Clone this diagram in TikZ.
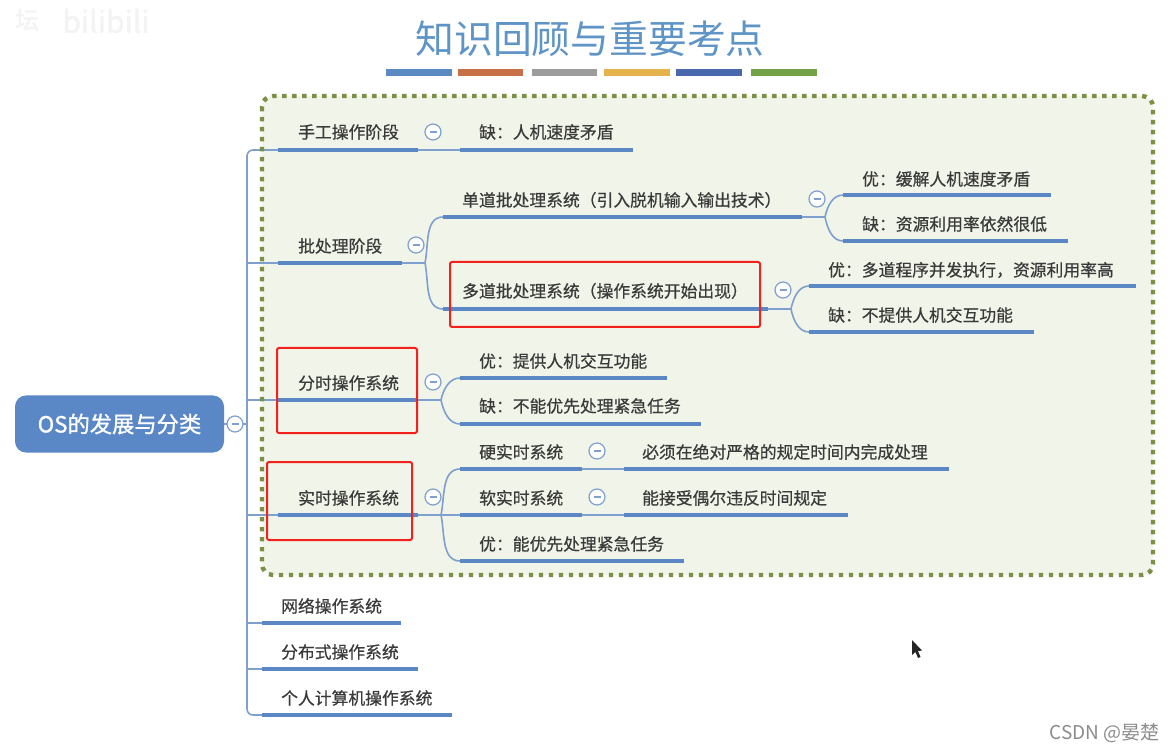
\documentclass[tikz,border=0pt]{standalone}
\usepackage{fontspec}
\setmainfont{Noto Sans CJK SC}
\newfontfamily\cjkbold[FakeBold=0.55]{Noto Sans CJK SC}
\newfontfamily\cjkheavy[FakeBold=1.2]{Noto Sans CJK SC}
\usetikzlibrary{calc}
\definecolor{thickblue}{HTML}{5B87C5}
\definecolor{thinblue}{HTML}{7FA0CE}
\definecolor{rootblue}{HTML}{5A87C6}
\definecolor{titleblue}{HTML}{5F95C6}
\definecolor{boxfill}{HTML}{F0F4E9}
\definecolor{boxdots}{HTML}{7B8F45}
\definecolor{labeltext}{HTML}{3A3A3A}
\definecolor{markred}{HTML}{F2211E}
\definecolor{barA}{HTML}{5B8AC2}
\definecolor{barB}{HTML}{C87048}
\definecolor{barC}{HTML}{9C9C9C}
\definecolor{barD}{HTML}{E6B24C}
\definecolor{barE}{HTML}{4A69AC}
\definecolor{barF}{HTML}{72A148}
\definecolor{faintmark}{HTML}{F3F3F3}
\tikzset{
  topictext/.style={font=\cjkbold\fontsize{16.8}{18}\selectfont,text=labeltext,inner sep=0pt,anchor=west},
  underline/.style={line width=3.6pt,draw=thickblue},
  link/.style={line width=1.6pt,draw=thinblue},
  collapse/.style={circle,draw=thinblue,fill=white,line width=1.2pt,minimum size=16pt,inner sep=0pt},
  redbox/.style={draw=markred,line width=2pt,rounded corners=2pt},
  colorbar/.style={minimum height=7pt,inner sep=0pt,anchor=west},
  branch/.style={link,out=78,in=180,looseness=0.95},
  branchdown/.style={link,out=-78,in=180,looseness=0.95}
}
% name, x1, x2, underline y, text x, text centre y, text
\newcommand{\topicitem}[7]{%
  \coordinate (#1-l) at (#2,#4);
  \coordinate (#1-r) at (#3,#4);
  \node[topictext] (#1) at (#5,#6) {#7};
}
\newcommand{\foldmark}[3]{%
  \node[collapse] (#1) at (#2,#3) {};
  \draw[draw=thinblue,line width=1.1pt] ($(#1.center)+(-3.5,0)$) -- ($(#1.center)+(3.5,0)$);
}
\begin{document}
\begin{tikzpicture}[x=1pt,y=-1pt]
\useasboundingbox (0,0) rectangle (1176,751);
\fill[white] (0,0) rectangle (1176,751);
% watermark
\node[font=\cjkheavy\fontsize{24}{26}\selectfont,text=faintmark,inner sep=0pt] (markicon) at (27,20) {坛};
\node[font=\cjkheavy\fontsize{30}{32}\selectfont,text=faintmark,inner sep=0pt] (mark) at (106,21) {bilibili};
% title
\node[font=\fontsize{38.8}{42}\selectfont,text=titleblue,inner sep=0pt] (title) at (590,39) {知识回顾与重要考点};
\node[colorbar,fill=barA,minimum width=66pt] (b1) at (386,73) {};
\node[colorbar,fill=barB,minimum width=65pt] (b2) at (458,73) {};
\node[colorbar,fill=barC,minimum width=65pt] (b3) at (532,73) {};
\node[colorbar,fill=barD,minimum width=66pt] (b4) at (604,73) {};
\node[colorbar,fill=barE,minimum width=66pt] (b5) at (676,73) {};
\node[colorbar,fill=barF,minimum width=66pt] (b6) at (751,73) {};
% panel fill
\fill[boxfill,rounded corners=11pt] (262,96) rectangle (1153,575);
% topics
\topicitem{sg}{278}{418}{150}{298}{132}{手工操作阶段}
\topicitem{sgq}{460}{633}{150}{479}{132}{缺：人机速度矛盾}
\topicitem{pc}{278}{402}{263}{298}{246}{批处理阶段}
\topicitem{dd}{443}{802}{217}{462}{200}{单道批处理系统（引入脱机输入输出技术）}
\topicitem{ddy}{843}{1051}{195}{862}{179}{优：缓解人机速度矛盾}
\topicitem{ddq}{843}{1068}{241}{862}{224}{缺：资源利用率依然很低}
\topicitem{md}{443}{768}{309}{462}{291}{多道批处理系统（操作系统开始出现）}
\topicitem{mdy}{809}{1136}{286}{828}{270}{优：多道程序并发执行，资源利用率高}
\topicitem{mdq}{809}{1034}{332}{828}{315}{缺：不提供人机交互功能}
\topicitem{fs}{278}{418}{400}{298}{383}{分时操作系统}
\topicitem{fsy}{460}{667}{378}{479}{361}{优：提供人机交互功能}
\topicitem{fsq}{460}{701}{424}{479}{406}{缺：不能优先处理紧急任务}
\topicitem{ss}{278}{418}{515}{298}{498}{实时操作系统}
\topicitem{hard}{460}{582}{469}{479}{452}{硬实时系统}
\topicitem{hardd}{624}{949}{469}{642}{452}{必须在绝对严格的规定时间内完成处理}
\topicitem{soft}{460}{582}{515}{479}{498}{软实时系统}
\topicitem{softd}{624}{848}{515}{642}{498}{能接受偶尔违反时间规定}
\topicitem{ssy}{460}{684}{561}{479}{544}{优：能优先处理紧急任务}
\topicitem{net}{262}{401}{623}{281}{606}{网络操作系统}
\topicitem{dist}{262}{418}{669}{281}{652}{分布式操作系统}
\topicitem{pers}{262}{452}{715}{281}{698}{个人计算机操作系统}
% root
\node[fill=rootblue,rounded corners=11pt,minimum width=209pt,minimum height=57pt,inner sep=0pt,text=white,font=\cjkheavy\fontsize{22.3}{24}\selectfont] (root) at (119.5,424) {OS的发展与分类};
% junctions
\coordinate (spine) at (247,424);
\coordinate (jpc) at (425,263);
\coordinate (jdd) at (825,217);
\coordinate (jmd) at (791,309);
\coordinate (jfs) at (441,400);
\coordinate (jss) at (441,515);
% connectors
\draw[link] (root.east) -- (spine);
\draw[link,rounded corners=6pt] (sg-l) -- (spine |- sg-l) -- (spine |- pers-l) -- (pers-l);
\draw[link] (spine |- pc-l) -- (pc-l);
\draw[link] (spine |- fs-l) -- (fs-l);
\draw[link] (spine |- ss-l) -- (ss-l);
\draw[link] (spine |- net-l) -- (net-l);
\draw[link] (spine |- dist-l) -- (dist-l);
\draw[link] (sg-r) -- (sgq-l);
\draw[link] (pc-r) -- (jpc);
\draw[branch] (jpc) to (dd-l);
\draw[branchdown] (jpc) to (md-l);
\draw[link] (dd-r) -- (jdd);
\draw[branch] (jdd) to (ddy-l);
\draw[branchdown] (jdd) to (ddq-l);
\draw[link] (md-r) -- (jmd);
\draw[branch] (jmd) to (mdy-l);
\draw[branchdown] (jmd) to (mdq-l);
\draw[link] (fs-r) -- (jfs);
\draw[branch] (jfs) to (fsy-l);
\draw[branchdown] (jfs) to (fsq-l);
\draw[link] (ss-r) -- (jss);
\draw[branch] (jss) to (hard-l);
\draw[link] (jss) -- (soft-l);
\draw[branchdown] (jss) to (ssy-l);
\draw[link] (hard-r) -- (hardd-l);
\draw[link] (soft-r) -- (softd-l);
% panel border over the connectors
\draw[boxdots,line width=4.4pt,dash pattern=on 4.4pt off 5.6pt,rounded corners=11pt] (262,96) rectangle (1153,575);
% underlines
\foreach \t in {sg,sgq,pc,dd,ddy,ddq,md,mdy,mdq,fs,fsy,fsq,ss,hard,hardd,soft,softd,ssy,net,dist,pers}{
  \draw[underline] (\t-l) -- (\t-r);
}
% collapse marks
\foldmark{c0}{235}{424}
\foldmark{c1}{433}{132}
\foldmark{c2}{416}{245}
\foldmark{c3}{817}{199}
\foldmark{c4}{783}{290}
\foldmark{c5}{433}{382}
\foldmark{c6}{433}{497}
\foldmark{c7}{597}{451}
\foldmark{c8}{597}{497}
% red frames
\draw[redbox] (450,262) rectangle (760,327);
\draw[redbox] (277,348) rectangle (417,433);
\draw[redbox] (267,462) rectangle (412,540);
% pointer
\fill[black!85] (912,640) -- (912,655) -- (915.5,652) -- (918,658) -- (920.5,657) -- (918,651) -- (922,650.5) -- cycle;
% credit
\node[font=\fontsize{19}{21}\selectfont,text=black!45,inner sep=0pt,anchor=east] (credit) at (1160,733) {CSDN @晏楚};
\end{tikzpicture}
\end{document}
